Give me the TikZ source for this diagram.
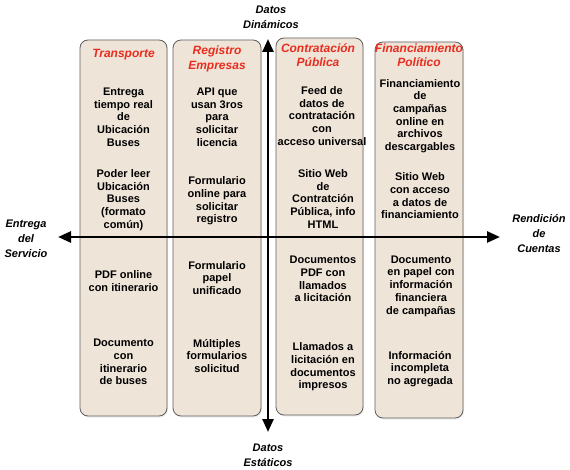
\documentclass[tikz,border=0pt]{standalone}
\usepackage{fontspec}
\setmainfont{Liberation Sans}
\usetikzlibrary{arrows.meta,shadows}
\definecolor{boxfill}{RGB}{239,228,216}
\definecolor{boxline}{RGB}{95,95,95}
\definecolor{titlered}{RGB}{232,45,30}
\tikzset{
  colbox/.style={draw=boxline, fill=boxfill, line width=0.8pt, rounded corners=8pt,
    drop shadow={opacity=0.15, shadow xshift=1pt, shadow yshift=-1.5pt}, inner sep=0pt},
  cell/.style={align=center, inner sep=0pt, font=\fontsize{11}{12.7}\selectfont\bfseries},
  coltitle/.style={align=center, inner sep=0pt, text=titlered, font=\fontsize{12}{14.5}\selectfont\bfseries\itshape},
  axislabel/.style={align=center, inner sep=0pt, font=\fontsize{11}{15}\selectfont\bfseries\itshape},
  axis/.style={line width=2.5pt, -{Triangle[length=13pt,width=11pt]}}
}
\begin{document}
\begin{tikzpicture}[x=1pt,y=-1pt]
\useasboundingbox (0,0) rectangle (570,470);
% columns
\node[colbox, minimum width=87pt, minimum height=376pt] (c1) at (123.5,228) {};
\node[colbox, minimum width=88pt, minimum height=376pt] (c2) at (217,228) {};
\node[colbox, minimum width=87pt, minimum height=377pt] (c3) at (319.5,226.5) {};
\node[colbox, minimum width=88pt, minimum height=376pt] (c4) at (419,230) {};
% titles
\node[coltitle] (t1) at (123.5,55) {Transporte};
\node[coltitle] (t2) at (217,59) {Registro\\Empresas};
\node[coltitle] (t3) at (318,55) {Contratación\\Pública};
\node[coltitle] (t4) at (419,55) {Financiamiento\\Político};
% column 1
\node[cell] (a1) at (123.5,117) {Entrega\\tiempo real\\de\\Ubicación\\Buses};
\node[cell] (a2) at (123.5,200) {Poder leer\\Ubicación\\Buses\\(formato\\común)};
\node[cell] (a3) at (123.5,281) {PDF online\\con itinerario};
\node[cell] (a4) at (123.5,362) {Documento\\con\\itinerario\\de buses};
% column 2
\node[cell] (b1) at (217,117) {API que\\usan 3ros\\para\\solicitar\\licencia};
\node[cell] (b2) at (217,201) {Formulario\\online para\\solicitar\\registro};
\node[cell] (b3) at (217,278) {Formulario\\papel\\unificado};
\node[cell] (b4) at (217,356) {Múltiples\\formularios\\solicitud};
% column 3
\node[cell] (d1) at (322,116) {Feed de\\datos de\\contratación\\con\\acceso universal};
\node[cell] (d2) at (323,199) {Sitio Web\\de\\Contratción\\Pública, info\\HTML};
\node[cell] (d3) at (323,279) {Documentos\\PDF con\\llamados\\a licitación};
\node[cell] (d4) at (323,367) {Llamados a\\licitación en\\documentos\\impresos};
% column 4
\node[cell] (e1) at (420,116) {Financiamiento\\de\\campañas\\online en\\archivos\\descargables};
\node[cell] (e2) at (420,196) {Sitio Web\\con acceso\\a datos de\\financiamiento};
\node[cell] (e3) at (421,286) {Documento\\en papel con\\información\\financiera\\de campañas};
\node[cell] (e4) at (420,369) {Información\\incompleta\\no agregada};
% axes
\coordinate (xc) at (268,237);
\coordinate (left) at (58,237);
\coordinate (right) at (500,237);
\coordinate (top) at (268,39);
\coordinate (bot) at (268,432);
\draw[axis] (xc) -- (left);
\draw[axis] (xc) -- (right);
\draw[axis] (xc) -- (top);
\draw[axis] (xc) -- (bot);
% axis labels
\node[axislabel] (ltop) at (271,17) {Datos\\Dinámicos};
\node[axislabel] (lbot) at (268,455) {Datos\\Estáticos};
\node[axislabel] (lleft) at (26,239) {Entrega\\del\\Servicio};
\node[axislabel] (lright) at (539,234) {Rendición\\de\\Cuentas};
\end{tikzpicture}
\end{document}
